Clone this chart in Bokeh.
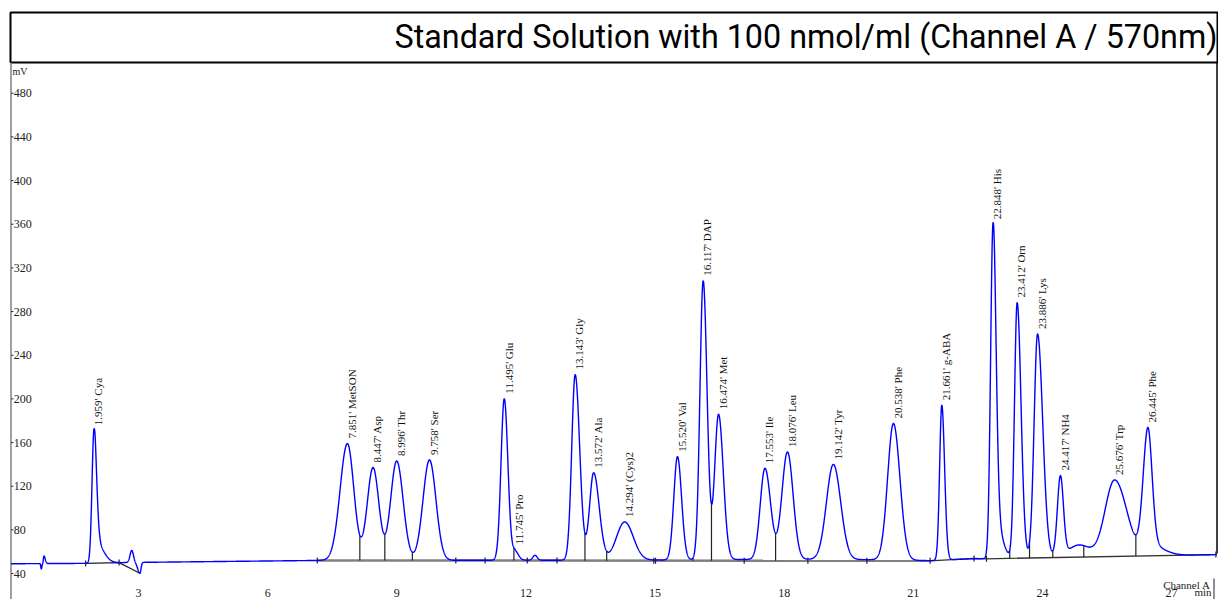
import numpy as np
from bokeh.plotting import figure
from bokeh.models import Range1d
from bokeh.core.properties import value
from bokeh.embed import file_html
from bokeh.resources import INLINE

TITLE = "Standard Solution with 100 nmol/ml (Channel A / 570nm)"

# ---- labelled peaks (retention time in min, height in mV above baseline, widths in min)
peak_labels = ["1.959' Cya", "7.851' MetSON", "8.447' Asp", "8.996' Thr", "9.758' Ser",
               "11.495' Glu", "11.745' Pro", "13.143' Gly", "13.572' Ala", "14.294' (Cys)2",
               "15.520' Val", "16.117' DAP", "16.474' Met", "17.553' Ile", "18.076' Leu",
               "19.142' Tyr", "20.538' Phe", "21.661' g-ABA", "22.848' His", "23.412' Orn",
               "23.886' Lys", "24.417' NH4", "25.676' Trp", "26.445' Phe"]
peak_rt = [1.959, 7.851, 8.447, 8.996, 9.758, 11.495, 11.745, 13.143, 13.572, 14.294,
           15.520, 16.117, 16.474, 17.553, 18.076, 19.142, 20.538, 21.661, 22.848, 23.412,
           23.886, 24.417, 25.676, 26.445]
peak_height = [110, 107, 85, 91, 92, 148, 8, 170, 80, 35,
               94.6, 255.5, 133, 83.5, 98.4, 87, 125, 142, 286, 234,
               205, 72.5, 70, 108]
peak_sigma_left = [0.045, 0.17, 0.135, 0.14, 0.15, 0.075, 0.05, 0.08, 0.095, 0.19,
                   0.085, 0.075, 0.09, 0.11, 0.13, 0.16, 0.135, 0.05, 0.055, 0.062,
                   0.08, 0.07, 0.22, 0.11]
peak_sigma_right = [0.06, 0.15, 0.135, 0.15, 0.15, 0.085, 0.08, 0.105, 0.13, 0.20,
                    0.095, 0.09, 0.11, 0.13, 0.13, 0.17, 0.15, 0.065, 0.07, 0.09,
                    0.12, 0.07, 0.28, 0.10]

# ---- unlabelled features (tails, humps, injection disturbances)
minor_t = [0.74, 0.80, 2.00, 2.84, 3.03, 12.21, 22.90, 24.85, 26.50]
minor_h = [-5, 7, 20, 11, -10, 4.5, 35, 11, 10]
minor_sigma_left = [0.012, 0.012, 0.04, 0.04, 0.05, 0.05, 0.05, 0.25, 0.08]
minor_sigma_right = [0.012, 0.03, 0.17, 0.04, 0.025, 0.05, 0.15, 0.25, 0.30]

# ---- detector baseline drift
baseline_t = [-0.3, 1.7, 2.6, 3.2, 6.0, 7.2, 15.0, 16.5, 19.0, 20.5, 21.4, 22.4, 22.7, 28.2]
baseline_mv = [48.9, 49.3, 50.0, 50.3, 51.5, 52.0, 52.3, 52.8, 53.0, 52.5, 51.8, 53.6, 53.6, 57.5]

# ---- integration baselines
cya_base_t = [1.77, 2.545, 3.03]
cya_base_mv = [49.3, 50.0, None]          # last point sits on the trace minimum
gray_base_t = [7.15, 21.39]
gray_base_mv = [52.0, 51.6]
black_base_t = [21.39, 22.41, 22.70, 28.03]
black_base_mv = [51.6, 53.8, 53.5, 57.4]

drop_t = [8.14, 8.72, 9.36, 11.72, 13.37, 13.875, 15.88, 16.31, 17.80,
          23.24, 23.70, 24.24, 24.96, 26.17]
mark_t = [1.77, 2.545, 7.15, 10.37, 11.05, 12.03, 12.72, 14.97, 15.01, 17.07,
          18.55, 19.92, 21.39, 22.41, 22.70, 28.03]

y_ticks = [40, 80, 120, 160, 200, 240, 280, 320, 360, 400, 440, 480]
x_ticks = [3, 6, 9, 12, 15, 18, 21, 24, 27]

# ---- pixel geometry of the reference
W, H = 1218, 599
PX_PER_MIN = 43.04
X0_PX = 9.0
PX_PER_MV = 1.0916
Y0_PX = 616.7


def t_of(px):
    return (px - X0_PX) / PX_PER_MIN


def mv_of(py):
    return (Y0_PX - py) / PX_PER_MV


def bigauss(t, c, h, sl, sr):
    s = np.where(t < c, sl, sr)
    return h * np.exp(-0.5 * ((t - c) / s) ** 2)


def trace_at(t):
    t = np.asarray(t, dtype=float)
    y = np.interp(t, baseline_t, baseline_mv)
    for c, h, sl, sr in zip(peak_rt, peak_height, peak_sigma_left, peak_sigma_right):
        y = y + bigauss(t, c, h, sl, sr)
    for c, h, sl, sr in zip(minor_t, minor_h, minor_sigma_left, minor_sigma_right):
        y = y + bigauss(t, c, h, sl, sr)
    return y


cya_base_mv[-1] = float(trace_at(cya_base_t[-1]))
all_base_t = cya_base_t + gray_base_t + black_base_t[1:]
all_base_mv = cya_base_mv + gray_base_mv + black_base_mv[1:]

p = figure(width=W, height=H, output_backend="svg", toolbar_location=None,
           x_range=Range1d(t_of(0), t_of(W)), y_range=Range1d(mv_of(H), mv_of(0)),
           x_axis_location=None, y_axis_location=None, min_border=0)
p.grid.visible = False
p.outline_line_color = None
p.background_fill_color = "white"
p.border_fill_color = "white"

SERIF = value("Liberation Serif")

# title box
p.quad(left=[t_of(10)], right=[t_of(1217)], bottom=[mv_of(62)], top=[mv_of(12)],
       fill_color=None, line_color="black", line_width=2)
p.text(x=[t_of(1217)], y=[mv_of(36.5)], text=[TITLE], text_font=value("Roboto"),
       text_font_size=value("32.3px"), text_align="right", text_baseline="middle",
       text_color="black")

# right border
p.segment(x0=[t_of(1216.5)], y0=[mv_of(62)], x1=[t_of(1216.5)], y1=[mv_of(553)],
          line_color="black", line_width=1.5)

# y axis
p.segment(x0=[t_of(10.5)], y0=[mv_of(62)], x1=[t_of(10.5)], y1=[mv_of(H)],
          line_color="#808080", line_width=1.5)
p.segment(x0=[t_of(10.5)] * len(y_ticks), y0=y_ticks, x1=[t_of(13)] * len(y_ticks), y1=y_ticks,
          line_color="#333333", line_width=1)
p.text(x=[t_of(13.3)] * len(y_ticks), y=y_ticks, text=[str(v) for v in y_ticks],
       text_font=SERIF, text_font_size=value("12px"), text_align="left",
       text_baseline="middle", text_color="#222222")
p.text(x=[t_of(12)], y=[mv_of(70.5)], text=["mV"], text_font=SERIF,
       text_font_size=value("10px"), text_align="left", text_baseline="middle",
       text_color="#222222")

# x tick labels (kept fully inside the page)
p.text(x=x_ticks, y=[mv_of(596)] * len(x_ticks), text=[str(v) for v in x_ticks],
       text_font=SERIF, text_font_size=value("12px"), text_align="center",
       text_baseline="bottom", text_color="#222222")
p.text(x=[t_of(1210)], y=[mv_of(584)], text=["Channel A"], text_font=SERIF,
       text_font_size=value("11px"), text_align="right", text_baseline="middle",
       text_color="#222222")
p.text(x=[t_of(1211)], y=[mv_of(597)], text=["min"], text_font=SERIF,
       text_font_size=value("11px"), text_align="right", text_baseline="bottom",
       text_color="#222222")
p.segment(x0=[t_of(1213.5)], y0=[mv_of(578)], x1=[t_of(1213.5)], y1=[mv_of(H)],
          line_color="#222222", line_width=1)

# integration baselines
p.line(gray_base_t, gray_base_mv, line_color="#808080", line_width=2.5)
p.line(black_base_t, black_base_mv, line_color="#333333", line_width=1.3)
p.line(cya_base_t, cya_base_mv, line_color="#222222", line_width=1.2)

drop_base = np.interp(drop_t, all_base_t, all_base_mv)
p.segment(x0=drop_t, y0=drop_base, x1=drop_t, y1=trace_at(drop_t),
          line_color="#222222", line_width=1.2)
mark_base = np.interp(mark_t, all_base_t, all_base_mv)
half = 3.0 / PX_PER_MV
p.segment(x0=mark_t, y0=mark_base - half, x1=mark_t, y1=mark_base + half,
          line_color="#222222", line_width=1.2)

# chromatogram trace
tt = np.arange(t_of(10.5), t_of(1216.5), 0.003)
p.line(tt, trace_at(tt), line_color="#0000ff", line_width=1.4)

# peak labels
lab_x = [r + 4.3 / PX_PER_MIN for r in peak_rt]
lab_y = list(trace_at(peak_rt) + 5.0 / PX_PER_MV)
p.text(x=lab_x, y=lab_y, text=peak_labels, angle=np.pi / 2, text_font=SERIF,
       text_font_size=value("11px"), text_align="left", text_baseline="middle",
       text_color="#111111")

open("out.html", "w").write(file_html(p, INLINE))
